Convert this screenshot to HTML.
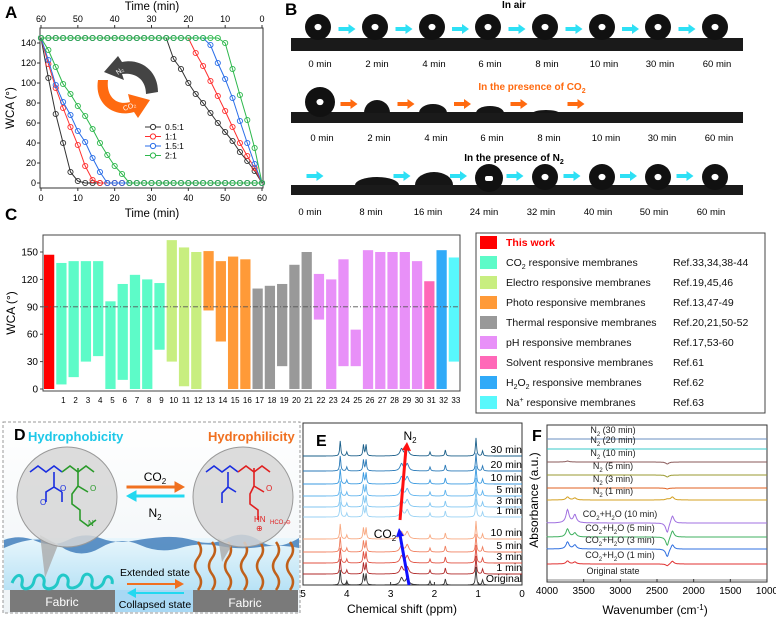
<!DOCTYPE html>
<html><head><meta charset="utf-8">
<style>
html,body{margin:0;padding:0;background:#fff;}
svg{display:block;font-family:"Liberation Sans",Arial,sans-serif;}
</style></head>
<body>
<svg id="fig" width="776" height="620" viewBox="0 0 776 620" xmlns="http://www.w3.org/2000/svg">
<defs>
<linearGradient id="water" x1="0" y1="0" x2="0" y2="1">
<stop offset="0" stop-color="#e8f6fc"/><stop offset="1" stop-color="#b8e2f5"/></linearGradient>
<linearGradient id="sky" x1="0" y1="0" x2="0" y2="1">
<stop offset="0" stop-color="#ffffff"/><stop offset="1" stop-color="#eef3f6"/></linearGradient>
</defs>
<g font-weight="bold" font-size="17" fill="#000">
<text x="5" y="18">A</text>
<text x="285" y="15">B</text>
<text x="5" y="220">C</text>
</g>
<g id="panelA"></g>
<g id="panelB"></g>
<g id="panelC"></g>
<g id="panelD">
  <rect x="3" y="422" width="297" height="191" fill="url(#sky)" stroke="#999" stroke-dasharray="3,2"/>
  <rect x="4" y="538" width="295" height="52" fill="url(#water)"/>
  <path d="M4 540 Q20 534 36 541 T68 540 T100 538 T132 541 T164 537 T196 541 T228 538 T260 541 T299 538 L299 548 Q280 544 260 547 T220 546 T180 548 T140 545 T100 548 T60 546 T4 548 Z" fill="#3a78b8" opacity="0.8"/>
  <rect x="10" y="590" width="105" height="22" fill="#7a7a7a"/>
  <rect x="115" y="590" width="78" height="22" fill="#a8d8f4"/>
  <rect x="193" y="590" width="105" height="22" fill="#7a7a7a"/>
  <text x="62" y="606" font-size="12" fill="#fff" text-anchor="middle">Fabric</text>
  <text x="245" y="607" font-size="12" fill="#fff" text-anchor="middle">Fabric</text>
  <path d="M12 583 c5 -12 12 -8 10 0 c-2 8 10 8 12 -2 c2 -10 12 -6 10 2 c-2 8 12 8 14 -2 c2 -10 12 -6 10 2 c-2 8 12 6 14 -3 c2 -10 12 -6 10 3 c-2 8 10 6 12 -2 c2 -8 10 -4 8 3" fill="none" stroke="#22c8c8" stroke-width="3"/>
  <g stroke="#c0601a" stroke-width="2.5" fill="none">
    <path d="M198 590 q6 -8 0 -16 q-6 -8 0 -16 q6 -8 0 -16"/>
    <path d="M212 590 q6 -8 0 -16 q-6 -8 0 -16 q6 -8 0 -16"/>
    <path d="M228 590 q6 -8 0 -16 q-6 -8 0 -16 q6 -8 0 -16"/>
    <path d="M244 590 q6 -8 0 -16 q-6 -8 0 -16 q6 -8 0 -16"/>
    <path d="M260 590 q6 -8 0 -16 q-6 -8 0 -16 q6 -8 0 -16"/>
    <path d="M276 590 q6 -8 0 -16 q-6 -8 0 -16 q6 -8 0 -16"/>
    <path d="M290 590 q6 -8 0 -16 q-6 -8 0 -16 q6 -8 0 -16"/>
  </g>
  <path d="M40 535 L45 578 L58 545 Z" fill="#aaa" opacity="0.8"/>
  <circle cx="67" cy="497" r="50" fill="#d6d6d6" fill-opacity="0.85" stroke="#999"/>
  <path d="M218 538 L222 562 L232 545 Z" fill="#aaa" opacity="0.8"/>
  <circle cx="243" cy="497" r="50" fill="#d6d6d6" fill-opacity="0.85" stroke="#999"/>
  <g fill="none" stroke-width="1.6">
    <path d="M30 472 l8 -6 l8 6 l8 -6 l8 6" stroke="#1a2ee0"/>
    <path d="M54 472 l0 15 l8 5 M62 492 l0 10 M54 487 l-8 5 l0 10" stroke="#1a2ee0"/>
    <path d="M62 472 l8 -6 l8 6 l8 -6 l8 6" stroke="#2a9a2a"/>
    <path d="M78 468 l0 18 l10 6 m-10 -6 l-6 8 l0 10 l8 6 l0 10 l8 6 l8 -6" stroke="#2a9a2a"/>
  </g>
  <g font-size="8">
    <text x="60" y="491" fill="#1a2ee0">O</text><text x="40" y="505" fill="#1a2ee0">O</text>
    <text x="90" y="491" fill="#2a9a2a">O</text><text x="88" y="526" fill="#2a9a2a">N</text>
  </g>
  <g fill="none" stroke-width="1.6">
    <path d="M206 472 l8 -6 l8 6 l8 -6 l8 6" stroke="#1a2ee0"/>
    <path d="M228 472 l0 15 l8 5 M228 487 l-6 6 l0 10" stroke="#1a2ee0"/>
    <path d="M238 472 l8 -6 l8 6 l8 -6 l8 6" stroke="#e02020"/>
    <path d="M254 468 l0 18 l10 6 m-10 -6 l-4 8 l0 10 l8 6 l0 10" stroke="#e02020"/>
  </g>
  <g font-size="8" fill="#e02020">
    <text x="266" y="491">O</text><text x="254" y="522">HN</text><text x="270" y="524" font-size="6">HCO₃⊖</text><text x="256" y="531">⊕</text>
  </g>
  <text x="28" y="441" font-size="13" font-weight="bold" fill="#1ec8e8">Hydrophobicity</text>
  <text x="208" y="441" font-size="13" font-weight="bold" fill="#f07020">Hydrophilicity</text>
  <text x="14" y="440" font-size="16" font-weight="bold">D</text>
  <text x="155" y="481" font-size="12" text-anchor="middle">CO<tspan font-size="8" dy="3">2</tspan></text>
  <path d="M127 486 L175 486 L175 482 L184 487 L175 492 L175 488 L127 488 Z" fill="#f07020" stroke="#f07020"/>
  <path d="M184 495 L136 495 L136 491 L127 496 L136 501 L136 497 L184 497 Z" fill="#22d8f0" stroke="#22d8f0"/>
  <text x="155" y="517" font-size="12" text-anchor="middle">N<tspan font-size="8" dy="3">2</tspan></text>
  <text x="155" y="576" font-size="10.5" text-anchor="middle">Extended state</text>
  <path d="M127 583 L175 583 L175 579 L184 584 L175 589 L175 585 L127 585 Z" fill="#f07020"/>
  <path d="M184 592 L136 592 L136 588 L127 593 L136 598 L136 594 L184 594 Z" fill="#22d8f0"/>
  <text x="155" y="608" font-size="10.5" text-anchor="middle">Collapsed state</text>
</g>
<g id="panelE"></g>
<g id="panelF"></g>

<script>
var NS="http://www.w3.org/2000/svg";
function mk(parent,tag,attrs,txt){var e=document.createElementNS(NS,tag);for(var k in attrs)e.setAttribute(k,attrs[k]);if(txt!==undefined)e.textContent=txt;parent.appendChild(e);return e;}
/* rich text: parts = [[string, mode]] mode: "", "sub", "sup" */
function rich(textEl,parts,small){
  var shift=0;
  parts.forEach(function(p){
    var s=mk(textEl,"tspan",{},p[0]);
    var target=p[1]=="sub"?3:(p[1]=="sup"?-4:0);
    if(target!==shift){s.setAttribute("dy",target-shift);shift=target;}
    if(p[1])s.setAttribute("font-size",small);
  });
}

/* ---------- Panel A data ---------- */
var aTimes=[0,2,4,6,8,10,12,14,16,18,20,22,24,26,28,30,32,34,36,38,40,42,44,46,48,50,52,54,56,58,60];
var aSeriesNames=["0.5:1","1:1","1.5:1","2:1"];
var aCO2_black=[145,105,69,40,11,2,0,0,0,0,0,0,0,0,0,0,0,0,0,0,0,0,0,0,0,0,0,0,0,0,0];
var aCO2_red=[145,119,95,75,56,38,17,3,0,0,0,0,0,0,0,0,0,0,0,0,0,0,0,0,0,0,0,0,0,0,0];
var aCO2_blue=[145,123,98,81,68,52,41,25,11,0,0,0,0,0,0,0,0,0,0,0,0,0,0,0,0,0,0,0,0,0,0];
var aCO2_green=[145,133,116,99,89,77,67,54,40,28,17,9,0,0,0,0,0,0,0,0,0,0,0,0,0,0,0,0,0,0,0];
var aN2_black=[145,145,145,145,145,145,145,145,145,145,145,145,145,145,145,145,145,145,124,114,100,89,80,70,60,51,42,31,22,12,0];
var aN2_red=[145,145,145,145,145,145,145,145,145,145,145,145,145,145,145,145,145,145,145,145,145,130,117,102,87,72,56,40,27,15,0];
var aN2_blue=[145,145,145,145,145,145,145,145,145,145,145,145,145,145,145,145,145,145,145,145,145,145,145,138,120,104,85,62,40,19,0];
var aN2_green=[145,145,145,145,145,145,145,145,145,145,145,145,145,145,145,145,145,145,145,145,145,145,145,145,145,140,114,88,63,35,0];
var aYTicks=[0,20,40,60,80,100,120,140];
var aXTicks=[0,10,20,30,40,50,60];
var aColors=["#333333","#ff3030","#2a6ee8","#2db84c"];

(function(){
var g=document.getElementById("panelA");
var L=40,R=263,T=28,B=188;
function xs(t){return L+1+(t/60)*(R-L-2);}
function ys(v){return 183-v*1.0;}
mk(g,"rect",{x:L,y:T,width:R-L,height:B-T,fill:"none",stroke:"#333"});
var t=mk(g,"text",{x:152,y:10,"font-size":"11.5","text-anchor":"middle"},"Time (min)");


t=mk(g,"text",{x:152,y:217,"font-size":"11.5","text-anchor":"middle"},"Time (min)");


t=mk(g,"text",{x:14,y:108,"font-size":"11.5","text-anchor":"middle",transform:"rotate(-90 14 108)"},"WCA (°)");


aXTicks.forEach(function(v){
  var x=xs(v);
  mk(g,"line",{x1:x,x2:x,y1:B,y2:B+3,stroke:"#333"});
  mk(g,"line",{x1:x,x2:x,y1:T,y2:T-3,stroke:"#333"});
  var a=mk(g,"text",{x:x,y:B+13,"font-size":"9","text-anchor":"middle"},v);
  
  
  var b=mk(g,"text",{x:xs(60-v),y:T-6,"font-size":"9","text-anchor":"middle"},v);
  
  
});
aYTicks.forEach(function(v){
  var y=ys(v);
  mk(g,"line",{x1:L,x2:L-3,y1:y,y2:y,stroke:"#333"});
  var a=mk(g,"text",{x:L-4,y:y+3,"font-size":"9","text-anchor":"end"},v);
  
  
});
var ic=mk(g,"g",{});


mk(ic,"path",{d:"M158 92 C158 70 140 58 122 62 L118 56 L104 72 L124 80 L122 74 C136 72 146 80 146 94 Z",fill:"#444"});
mk(ic,"text",{x:118,y:75,"font-size":"7",fill:"#fff",transform:"rotate(-35 118 75)"},"N₂");
mk(ic,"path",{d:"M98 80 C94 104 114 118 134 112 L138 118 L150 100 L128 94 L130 102 C116 106 106 96 108 80 Z",fill:"#ff6a10"});
mk(ic,"text",{x:124,y:111,"font-size":"7",fill:"#fff",transform:"rotate(-20 124 111)"},"CO₂");
var co2=[aCO2_black,aCO2_red,aCO2_blue,aCO2_green];
var n2=[aN2_black,aN2_red,aN2_blue,aN2_green];
[co2,n2].forEach(function(set,si){
  set.forEach(function(arr,k){
    var pts=arr.map(function(v,i){return xs(aTimes[i])+","+ys(v);}).join(" ");
    var pl=mk(g,"polyline",{points:pts,fill:"none",stroke:aColors[k],"stroke-width":"1"});
    
    
    arr.forEach(function(v,i){
      var c=mk(g,"circle",{cx:xs(aTimes[i]),cy:ys(v),r:2.6,fill:"none",stroke:aColors[k],"stroke-width":"0.9"});
      
      
    });
  });
});
aSeriesNames.forEach(function(n,k){
  var y=127+k*9.5;
  var lg=mk(g,"g",{});
  
  
  mk(lg,"line",{x1:145,x2:161,y1:y,y2:y,stroke:aColors[k]});
  mk(lg,"circle",{cx:153,cy:y,r:2.6,fill:"#fff",stroke:aColors[k]});
  mk(lg,"text",{x:165,y:y+3,"font-size":"8.5"},n);
});
})();

/* ---------- Panel B photos ---------- */
(function(){
var g=document.getElementById("panelB");
var labels=["0 min","2 min","4 min","6 min","8 min","10 min","30 min","60 min"];
var labels3=["0 min","8 min","16 min","24 min","32 min","40 min","50 min","60 min"];
var cx=[318,375,432,488,545,602,658,715];
function strip(y,h){var r=mk(g,"rect",{x:291,y:y,width:452,height:h,fill:"#1a1a1a"});}
function drop(x,y,r,hole){var c=mk(g,"circle",{cx:x,cy:y,r:r,fill:"#111"});if(hole)mk(g,"ellipse",{cx:x,cy:y,rx:hole,ry:hole*0.9,fill:"#fff"});}
function dome(x,base,rx,ry){var e=mk(g,"path",{d:"M"+(x-rx)+" "+base+" A"+rx+" "+ry+" 0 0 1 "+(x+rx)+" "+base+" Z",fill:"#151515"});}
function arrow(x,y,col){var a=mk(g,"path",{d:"M"+(x-8)+" "+(y-2)+" L"+(x+2)+" "+(y-2)+" L"+(x+2)+" "+(y-5)+" L"+(x+9)+" "+y+" L"+(x+2)+" "+(y+5)+" L"+(x+2)+" "+(y+2)+" L"+(x-8)+" "+(y+2)+" Z",fill:col});}
function txt(x,y,s,opts){var o={x:x,y:y,"font-size":"9.5","text-anchor":"middle"};for(var k in (opts||{}))o[k]=opts[k];return mk(g,"text",o,s);}
strip(38,13);
for(var i=0;i<8;i++){drop(cx[i],27,13,3.5); if(i<7)arrow((cx[i]+cx[i+1])/2,29,"#2ee0f5");
 var t=txt(cx[i]+2,67,labels[i]);}
var h=txt(514,8,"In air",{"font-weight":"bold","font-size":"10"});
strip(112,11);
drop(320,102,15,3.5);dome(377,113,13,13);dome(433,113,14,9);dome(490,113,14,7);dome(546,113,13,3);
for(i=0;i<5;i++)arrow((cx[i]+cx[i+1])/2+2,104,"#ff6a10");
for(i=0;i<8;i++){var t2=txt(cx[i]+4,141,labels[i]);}
h=txt(532,90,undefined,{"font-weight":"bold","font-size":"10",fill:"#ff6a10"});
rich(h,[["In the presence of CO",""],["2","sub"]],7);

strip(185,10);
dome(377,185,22,8);dome(434,185,19,13);
drop(489,178,14,0);mk(g,"rect",{x:485,y:176,width:8,height:5,fill:"#fff",rx:2});
for(i=4;i<8;i++)drop(cx[i],177,13,3.5);
for(i=0;i<7;i++)arrow((cx[i]+cx[i+1])/2-2+(i==0?-30:0),176,"#2ee0f5");
for(i=0;i<8;i++){var t3=txt(cx[i]-4+(i==0?-4:0),215,labels3[i]);}
h=txt(514,161,undefined,{"font-weight":"bold","font-size":"10"});
rich(h,[["In the presence of N",""],["2","sub"]],7);

})();

/* ---------- Panel C data ---------- */
var cLabels=["TW","1","2","3","4","5","6","7","8","9","10","11","12","13","14","15","16","17","18","19","20","21","22","23","24","25","26","27","28","29","30","31","32","33"];
var cTop=[147,138,140,140,140,96,115,125,120,116,163,155,150,151,140,145,142,110,113,115,136,150,126,120,142,65,152,150,150,150,140,118,152,144];
var cBottom=[0,5,13,30,36,0,10,0,0,43,30,3,0,86,52,0,0,0,0,25,0,0,76,0,25,25,0,0,0,0,0,0,0,30];
var cCategory=[0,1,1,1,1,1,1,1,1,1,2,2,2,3,3,3,3,4,4,4,4,4,5,5,5,5,5,5,5,5,5,6,7,8];
var cYTicks=[0,30,60,90,120,150];
var cCatNames=["This work","CO2 responsive membranes","Electro responsive membranes","Photo responsive membranes","Thermal responsive membranes","pH responsive membranes","Solvent responsive membranes","H2O2 responsive membranes","Na+ responsive membranes"];
var cRefs=["","Ref.33,34,38-44","Ref.19,45,46","Ref.13,47-49","Ref.20,21,50-52","Ref.17,53-60","Ref.61","Ref.62","Ref.63"];
var cColors=["#ff0000","#5dfbc8","#c8ee80","#ff9a38","#999999","#e890f8","#ff68b8","#30aaf8","#58f8fc"];

(function(){
var g=document.getElementById("panelC");
var L=43,R=460,T=235,B=391;
function ys(v){return 389-v*(137/150);}
var step=(R-L)/34;
mk(g,"rect",{x:L,y:T,width:R-L,height:B-T,fill:"none",stroke:"#444"});
var tt=mk(g,"text",{x:15,y:313,"font-size":"12","text-anchor":"middle",transform:"rotate(-90 15 313)"},"WCA (°)");


cYTicks.forEach(function(v){
  var y=ys(v);
  mk(g,"line",{x1:L,x2:L-3,y1:y,y2:y,stroke:"#444"});
  var a=mk(g,"text",{x:L-5,y:y+3.5,"font-size":"10","text-anchor":"end"},v);
  
  
});
cTop.forEach(function(v,i){
  var x=L+1+i*step;
  var r=mk(g,"rect",{x:x,y:ys(v),width:step-2,height:ys(cBottom[i])-ys(v),fill:cColors[cCategory[i]]});
  
  
  if(i>0){
    var t=mk(g,"text",{x:x+step/2+1,y:403,"font-size":"8","text-anchor":"middle"},cLabels[i]);
    
    
  }
});
var ln=mk(g,"line",{x1:L,x2:R,y1:ys(90),y2:ys(90),stroke:"#555","stroke-dasharray":"5,2,1,2","stroke-width":"0.8"});


var lg=mk(g,"g",{});


mk(lg,"rect",{x:476,y:233,width:289,height:180,fill:"#fff",stroke:"#444"});
cCatNames.forEach(function(n,k){
  var y=242+k*20;
  var e=mk(lg,"g",{});
  
  
  mk(e,"rect",{x:480,y:y-6,width:17,height:13,fill:cColors[k]});
  var t=mk(e,"text",{x:506,y:y+4,"font-size":"10.5",fill:k==0?"#ff0000":"#111","font-weight":k==0?"bold":"normal"});
  if(n.indexOf("CO2")==0)rich(t,[["CO",""],["2","sub"],[" responsive membranes",""]],7);
  else if(n.indexOf("H2O2")==0)rich(t,[["H",""],["2","sub"],["O",""],["2","sub"],[" responsive membranes",""]],7);
  else if(n.indexOf("Na+")==0)rich(t,[["Na",""],["+","sup"],[" responsive membranes",""]],7);
  else t.textContent=n;
  mk(e,"text",{x:673,y:y+4,"font-size":"10.5",fill:"#111"},cRefs[k]);
});
})();

/* ---------- Panel E data ---------- */
var eLabels=["30 min","20 min","10 min","5 min","3 min","1 min","10 min","5 min","3 min","1 min","Original"];
var eBaselines=[456,471,484,496,507,517,539,552,563,574,585];
var ePeakPpm=[4.15,4.0,3.62,3.56,2.75,2.62,2.1,1.75,1.05,0.9];
var ePeakHeight=[15,4,11,11,7,7,4,6,18,5];
var eColors=["#1a5f8a","#2a7ab8","#3a9ae0","#60b4ee","#80c6f2","#9ad2f4","#f8a880","#f08060","#e05040","#b02828","#333333"];
(function(){
var g=document.getElementById("panelE");
var L=303,R=522,T=423,B=585;
function xs(p){return R-(p/5)*(R-L);}
mk(g,"rect",{x:L,y:T,width:R-L,height:B-T,fill:"none",stroke:"#333"});
eBaselines.forEach(function(b,k){
  var d="M"+L+" "+b;
  for(var p=5;p>=0;p-=0.01){
    var y=b;
    ePeakPpm.forEach(function(pp,j){var w=(j==4||j==5)?0.04:0.015;var dx=(p-pp)/w;y-=ePeakHeight[j]/(1+dx*dx);});
    d+=" L"+xs(p).toFixed(1)+" "+y.toFixed(1);
  }
  var pa=mk(g,"path",{d:d,fill:"none",stroke:eColors[k],"stroke-width":"0.9"});
  
  
  var t=mk(g,"text",{x:R,y:b-3,"font-size":"10.5","text-anchor":"end"},eLabels[k]);
  
  
});
[5,4,3,2,1,0].forEach(function(v){
  var x=xs(v);
  mk(g,"line",{x1:x,x2:x,y1:B,y2:B-3,stroke:"#333"});
  var t=mk(g,"text",{x:x,y:B+12,"font-size":"10","text-anchor":"middle"},v);
  
  
});
var t=mk(g,"text",{x:402,y:613,"font-size":"12","text-anchor":"middle"},"Chemical shift (ppm)");


t=mk(g,"text",{x:316,y:446,"font-size":"16","font-weight":"bold"},"E");


var a=mk(g,"path",{d:"M400 520 L406 448",stroke:"#ff1010","stroke-width":"3"});


mk(g,"path",{d:"M402 450 L407 442 L411 451 Z",fill:"#ff1010"});
a=mk(g,"path",{d:"M409 585 L400 535",stroke:"#1010ff","stroke-width":"3"});


mk(g,"path",{d:"M396 537 L399 528 L404 536 Z",fill:"#1010ff"});
t=mk(g,"text",{x:410,y:440,"font-size":"12","text-anchor":"middle"});
rich(t,[["N",""],["2","sub"]],8);


t=mk(g,"text",{x:385,y:538,"font-size":"12","text-anchor":"middle"});
rich(t,[["CO",""],["2","sub"]],8);


})();

/* ---------- Panel F data ---------- */
var fLabels=["N2 (30 min)","N2 (20 min)","N2 (10 min)","N2 (5 min)","N2 (3 min)","N2 (1 min)","CO2+H2O (10 min)","CO2+H2O (5 min)","CO2+H2O (3 min)","CO2+H2O (1 min)","Original state"];
var fBaselines=[439,449,462,475,488,500,523,537,549,564,580];
var fBandWn=[3720,3620,2360,2290];
var fAmp3720=[0,0,1,0,0,3,13,8,7,3,0];
var fAmp3620=[0,0,0,0,0,2,8,4,4,2,0];
var fAmp2360=[0,0,-2,-2,-1,1,-10,-9,-8,-2,0];
var fAmp2290=[0,0,0,0,0,3,8,7,5,3,0];
var fColors=["#6a8fc0","#38c8c8","#8a5a5a","#9a9a30","#e06020","#d4a020","#a070e0","#40b060","#3070e0","#e03030","#888888"];
(function(){
var g=document.getElementById("panelF");
var L=547,R=767,T=425,B=582;
function xs(w){return L+(4000-w)/3000*(R-L);}
mk(g,"rect",{x:L,y:T,width:R-L,height:B-T,fill:"none",stroke:"#333"});
var amps=[fAmp3720,fAmp3620,fAmp2360,fAmp2290];
fBaselines.forEach(function(b,k){
  var d="M"+L+" "+b;
  for(var w=4000;w>=1000;w-=8){
    var y=b;
    fBandWn.forEach(function(c,j){var dx=(w-c)/25;y-=amps[j][k]/(1+dx*dx);});
    d+=" L"+xs(w).toFixed(1)+" "+y.toFixed(1);
  }
  var pa=mk(g,"path",{d:d,fill:"none",stroke:fColors[k],"stroke-width":"1"});
  
  
  var lab=fLabels[k];
  var t=mk(g,"text",{x:k>=6&&k<=9?620:613,y:b-6,"font-size":"9","text-anchor":"middle",fill:"#222"});
  if(lab.indexOf("N2")==0)rich(t,[["N",""],["2","sub"],[lab.slice(2),""]],6);
  else if(lab.indexOf("CO2")==0)rich(t,[["CO",""],["2","sub"],["+H",""],["2","sub"],["O"+lab.slice(7),""]],6);
  else t.textContent=lab;
  
  
});
[4000,3500,3000,2500,2000,1500,1000].forEach(function(v){
  var x=xs(v);
  mk(g,"line",{x1:x,x2:x,y1:B,y2:B-3,stroke:"#333"});
  var t=mk(g,"text",{x:x,y:B+12,"font-size":"10","text-anchor":"middle"},v);
  
  
});
var t=mk(g,"text",{x:655,y:614,"font-size":"12","text-anchor":"middle"});
rich(t,[["Wavenumber (cm",""],["-1","sup"],[")",""]],8);


t=mk(g,"text",{x:538,y:500,"font-size":"12","text-anchor":"middle",transform:"rotate(-90 538 500)"},"Absorbance (a.u.)");


t=mk(g,"text",{x:532,y:441,"font-size":"16","font-weight":"bold"},"F");


})();
</script>
</svg>
</body></html>
